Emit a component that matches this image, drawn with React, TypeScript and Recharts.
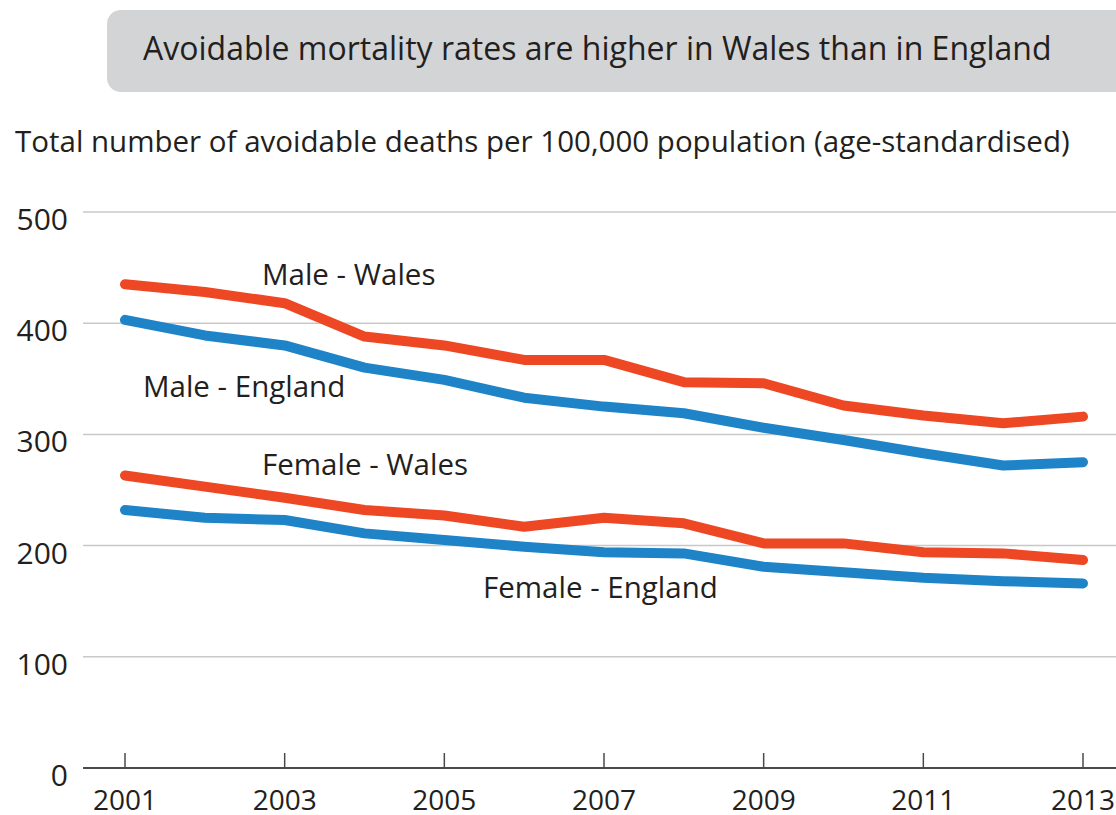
import { LineChart, Line, XAxis, YAxis, CartesianGrid } from "recharts";

// ─── Data ────────────────────────────────────────────────────────────────────

const YEARS = ["2001", "2002", "2003", "2004", "2005", "2006", "2007", "2008", "2009", "2010", "2011", "2012", "2013"];
const LABELLED_YEARS = ["2001", "2003", "2005", "2007", "2009", "2011", "2013"];
const Y_TICKS = [0, 100, 200, 300, 400, 500];

const MALE_WALES = [435, 428, 418, 388, 380, 367, 367, 347, 346, 326, 317, 310, 316];
const MALE_ENGLAND = [403, 389, 380, 360, 349, 333, 325, 319, 306, 295, 283, 272, 275];
const FEMALE_WALES = [263, 253, 243, 232, 227, 217, 225, 220, 202, 202, 194, 193, 187];
const FEMALE_ENGLAND = [232, 225, 223, 211, 205, 199, 194, 193, 181, 176, 171, 168, 166];

const TITLE = "Avoidable mortality rates are higher in Wales than in England";
const SUBTITLE = "Total number of avoidable deaths per 100,000 population (age-standardised)";

// ─── Styles ──────────────────────────────────────────────────────────────────

const RED = "#ee4723";
const BLUE = "#1f83c7";
const GRID = "#c8c8c8";
const AXIS = "#4a4a4a";
const INK = "#231f20";
const FONT = "'Open Sans', sans-serif";

const W = 1116;
const H = 815;

const rows = YEARS.map((year, i) => ({
  year,
  maleWales: MALE_WALES[i],
  maleEngland: MALE_ENGLAND[i],
  femaleWales: FEMALE_WALES[i],
  femaleEngland: FEMALE_ENGLAND[i],
}));

// series name labels, placed next to their lines
const SERIES_LABELS = [
  { text: "Male - Wales", x: 262, y: 285 },
  { text: "Male - England", x: 143, y: 397 },
  { text: "Female - Wales", x: 262, y: 475 },
  { text: "Female - England", x: 483, y: 598 },
];

function YearTick({ x, y, payload }: any) {
  if (!LABELLED_YEARS.includes(payload.value)) return null;
  return (
    <g>
      <line x1={x} x2={x} y1={y} y2={y - 15} stroke={AXIS} strokeWidth={1.5} />
      <text x={x} y={y + 42} textAnchor="middle" fontFamily={FONT} fontSize={28} fill={INK}>
        {payload.value}
      </text>
    </g>
  );
}

function ValueTick({ x, y, payload }: any) {
  return (
    <text x={x} y={y + 18} textAnchor="end" fontFamily={FONT} fontSize={30} fill={INK}>
      {payload.value}
    </text>
  );
}

export default function App() {
  return (
    <div style={{ position: "absolute", left: 0, top: 0, width: W, height: H, background: "#fff" }}>
      <LineChart
        width={W}
        height={H}
        data={rows}
        margin={{ top: 212, right: 0, bottom: 0, left: 0 }}
      >
        <CartesianGrid vertical={false} stroke={GRID} strokeWidth={1.5} />
        <XAxis
          dataKey="year"
          interval={0}
          height={47}
          padding={{ left: 42, right: 33 }}
          axisLine={{ stroke: AXIS, strokeWidth: 2 }}
          tickLine={false}
          tickSize={0}
          tickMargin={0}
          tick={<YearTick />}
        />
        <YAxis
          domain={[0, 500]}
          ticks={Y_TICKS}
          width={83}
          axisLine={false}
          tickLine={false}
          tickSize={0}
          tickMargin={15}
          tick={<ValueTick />}
        />
        <Line dataKey="maleWales" stroke={RED} strokeWidth={10} strokeLinecap="round" strokeLinejoin="round" dot={false} isAnimationActive={false} />
        <Line dataKey="maleEngland" stroke={BLUE} strokeWidth={10} strokeLinecap="round" strokeLinejoin="round" dot={false} isAnimationActive={false} />
        <Line dataKey="femaleWales" stroke={RED} strokeWidth={10} strokeLinecap="round" strokeLinejoin="round" dot={false} isAnimationActive={false} />
        <Line dataKey="femaleEngland" stroke={BLUE} strokeWidth={10} strokeLinecap="round" strokeLinejoin="round" dot={false} isAnimationActive={false} />
      </LineChart>

      <svg
        width={W}
        height={H}
        style={{ position: "absolute", left: 0, top: 0, pointerEvents: "none" }}
      >
        <rect x={107} y={10} width={1040} height={82} rx={14} fill="#d3d4d6" />
        <text x={143} y={60} fontFamily={FONT} fontSize={32} fill={INK}>
          {TITLE}
        </text>
        <text x={15} y={152} fontFamily={FONT} fontSize={29.5} fill={INK}>
          {SUBTITLE}
        </text>
        {SERIES_LABELS.map((l) => (
          <text key={l.text} x={l.x} y={l.y} fontFamily={FONT} fontSize={29.5} fill={INK}>
            {l.text}
          </text>
        ))}
      </svg>
    </div>
  );
}
